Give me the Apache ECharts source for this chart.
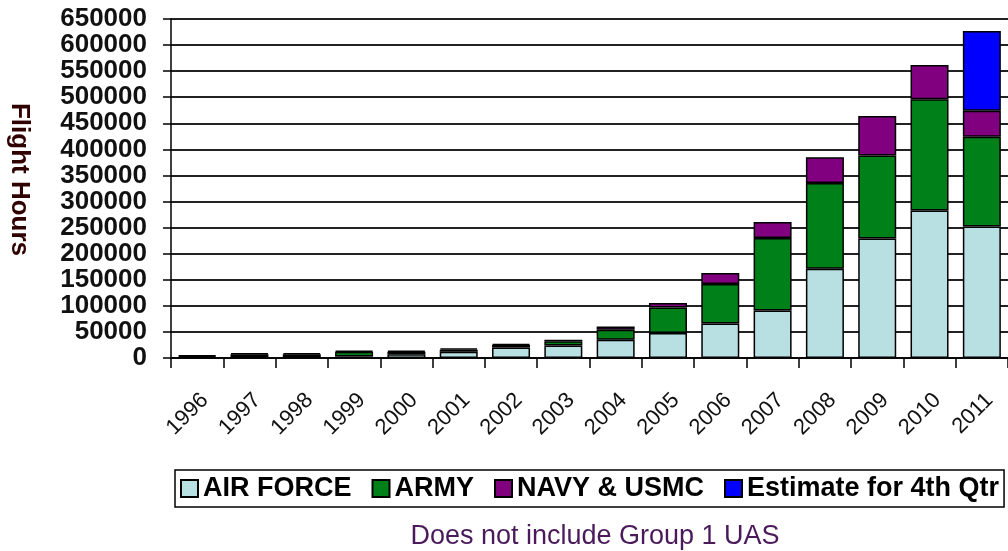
<!DOCTYPE html>
<html>
<head>
<meta charset="utf-8">
<title>UAS Flight Hours</title>
<script src="https://cdn.jsdelivr.net/npm/echarts@6/dist/echarts.min.js"></script>
<style>
  html, body { margin: 0; padding: 0; background: #fff; }
  #chart { width: 1008px; height: 551px; }
</style>
</head>
<body>
<div id="chart"></div>
<script>
// data
const years = ["1996", "1997", "1998", "1999", "2000", "2001", "2002", "2003",
  "2004", "2005", "2006", "2007", "2008", "2009", "2010", "2011"];
const airForce = [1000, 2000, 2000, 3000, 7000, 12000, 20000, 24000,
  35000, 48000, 66000, 91000, 171000, 229000, 283000, 252000];
const army = [2500, 5000, 5000, 9000, 5000, 4000, 5000, 8000,
  19000, 49000, 76000, 139000, 164500, 159500, 213000, 172000];
const navy = [1500, 2000, 2500, 2000, 2000, 2500, 2000, 3000,
  6500, 8500, 21000, 31000, 49500, 75500, 66000, 50000];
const estimate = [null, null, null, null, null, null, null, null,
  null, null, null, null, null, null, null, 153000];

const font = "'Liberation Sans', Arial, sans-serif";

const chart = echarts.init(document.getElementById("chart"));

function barSeries(name, data, color) {
  return {
    name: name,
    type: "bar",
    stack: "hours",
    barWidth: 38,
    data: data,
    itemStyle: { color: color, borderColor: "#000", borderWidth: 1.5 }
  };
}

const option = {
  animation: false,
  backgroundColor: "#fff",
  textStyle: { fontFamily: font },
  grid: { left: 171, right: 0, top: 19, bottom: 193, outerBoundsMode: "none" },
  legend: {
    data: ["AIR FORCE", "ARMY", "NAVY & USMC", "Estimate for 4th Qtr"],
    left: 175,
    top: 470,
    padding: [5, 5],
    itemGap: 20,
    itemWidth: 17,
    itemHeight: 17,
    borderColor: "#000",
    borderWidth: 1.5,
    icon: "rect",
    textStyle: { fontSize: 27, fontWeight: "bold", color: "#000", fontFamily: font }
  },
  title: {
    text: "Does not include Group 1 UAS",
    left: 590,
    textAlign: "center",
    top: 518,
    textStyle: { fontSize: 27, fontWeight: "normal", color: "#4a1a5a", fontFamily: font }
  },
  xAxis: {
    type: "category",
    data: years,
    axisLine: { lineStyle: { color: "#000", width: 1.5 } },
    axisTick: { show: true, length: 10, alignWithLabel: false, lineStyle: { color: "#000", width: 1.5 } },
    axisLabel: {
      interval: 0,
      rotate: 45,
      margin: 31,
      verticalAlign: "top",
      fontSize: 22,
      color: "#111",
      fontFamily: font
    },
    splitLine: { show: false }
  },
  yAxis: {
    type: "value",
    min: 0,
    max: 650000,
    interval: 50000,
    name: "Flight Hours",
    nameLocation: "middle",
    nameRotate: -90,
    nameGap: 139,
    nameTextStyle: {
      fontSize: 26, fontWeight: "bold", color: "#300000", fontFamily: font,
      padding: [0, 18, 0, 0]
    },
    axisLine: { show: true, lineStyle: { color: "#000", width: 1.5 } },
    axisTick: { show: true, length: 8, lineStyle: { color: "#000", width: 1.5 } },
    axisLabel: {
      margin: 24, fontSize: 26, fontWeight: "bold", color: "#111", fontFamily: font,
      formatter: function (v) { return String(v); }
    },
    splitLine: { show: true, lineStyle: { color: "#222", width: 2 } }
  },
  series: [
    barSeries("AIR FORCE", airForce, "#b8e0e3"),
    barSeries("ARMY", army, "#008018"),
    barSeries("NAVY & USMC", navy, "#800080"),
    barSeries("Estimate for 4th Qtr", estimate, "#0000ff")
  ]
};

chart.setOption(option);
</script>
</body>
</html>
